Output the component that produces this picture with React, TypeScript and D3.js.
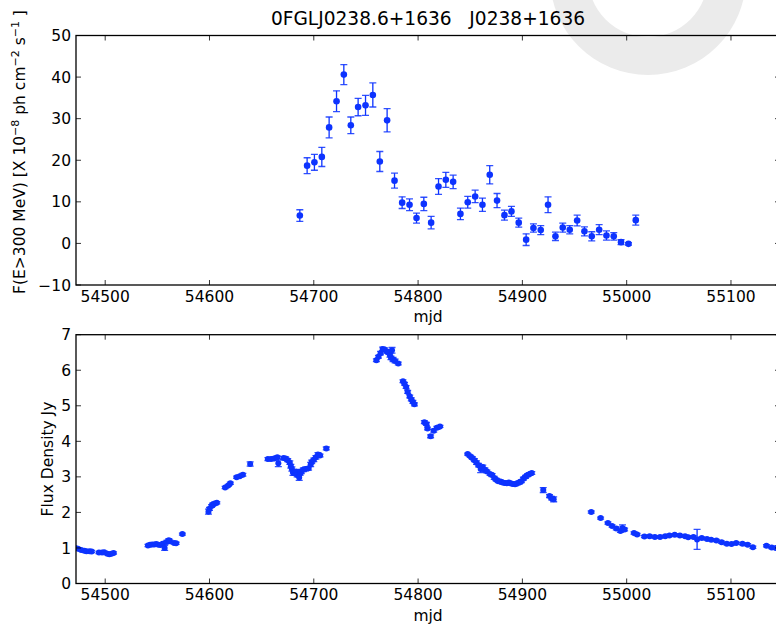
import React from "react";
import * as d3 from "d3";

const xTickValues = [54500, 54600, 54700, 54800, 54900, 55000, 55100];
const topYTicks = [-10, 0, 10, 20, 30, 40, 50];
const botYTicks = [0, 1, 2, 3, 4, 5, 6, 7];

const gammaMjd = [
  54686.6, 54693.6, 54700.6, 54707.7, 54714.7, 54721.8, 54728.8, 54735.5, 54742.5, 54749.6,
  54756.6, 54763.3, 54770.3, 54777.4, 54784.7, 54791.8, 54798.5, 54805.5, 54812.5, 54819.6,
  54826.6, 54833.6, 54840.6, 54847.6, 54854.7, 54861.7, 54868.7, 54875.7, 54882.8, 54889.5,
  54896.5, 54903.6, 54910.6, 54917.6, 54924.6, 54931.7, 54938.7, 54945.4, 54952.5, 54959.5,
  54966.5, 54973.6, 54980.6, 54987.6, 54994.6, 55001.7, 55008.7,
];
const gammaFlux = [
  6.7, 18.7, 19.5, 20.8, 27.9, 34.2, 40.6, 28.4, 32.8, 33.2,
  35.7, 19.7, 29.6, 15.1, 9.8, 9.3, 6.1, 9.5, 5.0, 13.7,
  15.3, 14.8, 7.1, 9.9, 11.3, 9.3, 16.5, 10.3, 6.8, 7.7,
  5.0, 0.9, 3.7, 3.2, 9.3, 1.7, 3.8, 3.3, 5.5, 2.9,
  1.7, 3.3, 1.9, 1.7, 0.3, -0.1, 5.6,
];
const gammaErr = [
  1.4, 1.9, 1.9, 2.3, 2.5, 2.5, 2.4, 2.0, 2.1, 2.4,
  2.9, 2.4, 2.8, 1.8, 1.4, 1.4, 1.2, 1.6, 1.5, 1.9,
  1.8, 1.6, 1.4, 1.4, 1.5, 1.6, 2.2, 1.7, 1.2, 1.2,
  1.1, 1.4, 1.0, 1.1, 1.9, 1.0, 1.1, 1.0, 1.3, 1.1,
  1.1, 1.2, 1.1, 0.9, 0.6, 0.3, 1.2,
];

const radioMjd = [
  54471.5, 54474, 54477, 54480, 54482, 54485, 54487, 54494, 54497, 54499, 54502, 54504, 54506, 54508,
  54541, 54543, 54545, 54547, 54549, 54551, 54553, 54555, 54557, 54559, 54561, 54562, 54566, 54568, 54574,
  54599, 54600, 54602, 54603, 54605, 54607,
  54615, 54618, 54620, 54626, 54629, 54632, 54639,
  54656, 54659, 54662, 54665, 54666, 54671, 54673, 54675, 54677, 54678, 54679, 54680, 54682, 54683,
  54684, 54686, 54687, 54688, 54690, 54692, 54695, 54697, 54698, 54700, 54702, 54704, 54706, 54712,
  54760, 54762, 54764, 54766, 54768, 54770, 54772, 54773, 54774, 54775, 54776, 54778, 54781,
  54785.5, 54787, 54788.5, 54790, 54792, 54793.5, 54795, 54796.5,
  54806, 54808, 54809, 54812, 54815, 54818, 54821,
  54847.5, 54850, 54852, 54854, 54856, 54858, 54860, 54862, 54864, 54866, 54869, 54871, 54873, 54875,
  54877, 54879, 54881, 54883, 54885, 54887, 54889, 54891, 54893, 54895, 54897, 54899, 54901, 54903,
  54905, 54907, 54909,
  54920, 54926, 54928, 54930,
  54966, 54975, 54982, 54986, 54990, 54994, 54996, 54998, 55007, 55010, 55017, 55022, 55027, 55032,
  55037, 55041, 55046, 55051, 55056, 55059, 55064, 55067.5, 55072, 55077, 55081, 55086, 55091, 55096,
  55100.5, 55105, 55111, 55116, 55121, 55134, 55139, 55143,
];
const radioFlux = [
  1.0, 0.98, 0.94, 0.92, 0.91, 0.91, 0.9, 0.87, 0.87, 0.88, 0.84, 0.82, 0.84, 0.86,
  1.07, 1.09, 1.1, 1.1, 1.11, 1.09, 1.08, 1.12, 1.0, 1.17, 1.22, 1.19, 1.14, 1.13, 1.39,
  2.02, 2.1, 2.18, 2.22, 2.25, 2.27,
  2.7, 2.76, 2.82, 2.99, 3.02, 3.06, 3.36,
  3.5, 3.5, 3.52, 3.55, 3.38, 3.53, 3.52, 3.47, 3.4, 3.3, 3.22, 3.12, 3.1, 3.15,
  3.05, 2.98, 3.1, 3.15, 3.2, 3.22, 3.24, 3.35, 3.42, 3.48, 3.55, 3.63, 3.6, 3.8,
  6.28, 6.38, 6.48, 6.6, 6.58, 6.53, 6.5, 6.42, 6.35, 6.56, 6.3, 6.26, 6.19,
  5.69, 5.62, 5.53, 5.39, 5.26, 5.18, 5.11, 5.04,
  4.54, 4.49, 4.36, 4.14, 4.3, 4.38, 4.42,
  3.64, 3.58, 3.53, 3.47, 3.4, 3.33, 3.22, 3.28, 3.2, 3.15, 3.08, 3.05, 2.97, 2.92,
  2.88, 2.87, 2.84, 2.83, 2.82, 2.84, 2.81, 2.8, 2.79, 2.82, 2.84, 2.88, 2.95, 3.0,
  3.05, 3.08, 3.11,
  2.63, 2.46, 2.4, 2.37,
  2.01, 1.84, 1.7, 1.62, 1.55, 1.48, 1.56, 1.52, 1.42, 1.38, 1.32, 1.33, 1.31, 1.31,
  1.33, 1.35, 1.37, 1.35, 1.33, 1.3, 1.31, 1.24, 1.28, 1.25, 1.23, 1.21, 1.16, 1.12,
  1.11, 1.14, 1.12, 1.09, 1.02, 1.06, 1.01, 1.0,
];
const radioErr = [
  0.04, 0.03, 0.03, 0.03, 0.03, 0.03, 0.03, 0.03, 0.03, 0.03, 0.03, 0.03, 0.03, 0.03,
  0.03, 0.03, 0.03, 0.03, 0.04, 0.03, 0.03, 0.03, 0.07, 0.04, 0.04, 0.03, 0.03, 0.03, 0.03,
  0.07, 0.04, 0.04, 0.04, 0.04, 0.03,
  0.03, 0.03, 0.03, 0.03, 0.03, 0.04, 0.06,
  0.04, 0.04, 0.04, 0.04, 0.09, 0.04, 0.04, 0.04, 0.05, 0.05, 0.06, 0.08, 0.06, 0.05,
  0.05, 0.08, 0.05, 0.06, 0.05, 0.05, 0.05, 0.06, 0.05, 0.05, 0.05, 0.05, 0.04, 0.04,
  0.04, 0.04, 0.05, 0.05, 0.05, 0.05, 0.05, 0.05, 0.05, 0.08, 0.06, 0.05, 0.04,
  0.04, 0.04, 0.04, 0.04, 0.04, 0.04, 0.04, 0.04,
  0.04, 0.04, 0.04, 0.04, 0.04, 0.04, 0.03,
  0.03, 0.03, 0.04, 0.04, 0.05, 0.05, 0.1, 0.05, 0.05, 0.04, 0.04, 0.04, 0.04, 0.04,
  0.04, 0.04, 0.04, 0.04, 0.04, 0.04, 0.04, 0.04, 0.04, 0.04, 0.04, 0.04, 0.04, 0.04,
  0.04, 0.04, 0.04,
  0.07, 0.04, 0.05, 0.07,
  0.03, 0.03, 0.03, 0.03, 0.04, 0.04, 0.09, 0.04, 0.03, 0.03, 0.03, 0.03, 0.03, 0.03,
  0.03, 0.03, 0.03, 0.03, 0.03, 0.03, 0.03, 0.28, 0.03, 0.03, 0.03, 0.03, 0.03, 0.03,
  0.03, 0.03, 0.03, 0.03, 0.03, 0.03, 0.03, 0.03,
];

const BLUE = "#0d33ff";
const FONT = "DejaVu Sans, Verdana, sans-serif";

type PanelProps = {
  id: string;
  top: number;
  bottom: number;
  left: number;
  right: number;
  yDomain: [number, number];
  yTicks: number[];
  mjd: number[];
  flux: number[];
  err: number[];
  r: number;
};

function Panel(p: PanelProps) {
  const x = d3.scaleLinear().domain([54472, 55147]).range([p.left, p.right]);
  const y = d3.scaleLinear().domain(p.yDomain).range([p.bottom, p.top]);
  const tl = 5;
  const fmtY = (v: number) => (v < 0 ? "\u2212" + Math.abs(v) : String(v));
  return (
    <g>
      <defs>
        <clipPath id={p.id}>
          <rect x={p.left} y={p.top} width={p.right - p.left} height={p.bottom - p.top} />
        </clipPath>
      </defs>
      <g clipPath={`url(#${p.id})`}>
        {p.mjd.map((m, i) => {
          const cx = x(m);
          const y1 = y(p.flux[i] + p.err[i]);
          const y2 = y(p.flux[i] - p.err[i]);
          return (
            <g key={i}>
              <line x1={cx} x2={cx} y1={y1} y2={y2} stroke={BLUE} strokeWidth={1.3} />
              <line x1={cx - 3.5} x2={cx + 3.5} y1={y1} y2={y1} stroke={BLUE} strokeWidth={1.3} strokeOpacity={0.85} />
              <line x1={cx - 3.5} x2={cx + 3.5} y1={y2} y2={y2} stroke={BLUE} strokeWidth={1.3} strokeOpacity={0.85} />
              <circle cx={cx} cy={y(p.flux[i])} r={p.r} fill={BLUE} />
            </g>
          );
        })}
      </g>
      <rect
        x={p.left}
        y={p.top}
        width={p.right - p.left}
        height={p.bottom - p.top}
        fill="none"
        stroke="#000"
        strokeWidth={1.3}
      />
      {xTickValues.map((t) => (
        <g key={"x" + t}>
          <line x1={x(t)} x2={x(t)} y1={p.bottom} y2={p.bottom - tl} stroke="#000" strokeWidth={0.8} />
          <line x1={x(t)} x2={x(t)} y1={p.top} y2={p.top + tl} stroke="#000" strokeWidth={0.8} />
          <text
            x={x(t)}
            y={p.bottom + 16.5}
            textAnchor="middle"
            fontFamily={FONT}
            fontSize={15.5}
            fill="#000"
          >
            {t}
          </text>
        </g>
      ))}
      {p.yTicks.map((t) => (
        <g key={"y" + t}>
          <line x1={p.left} x2={p.left + tl} y1={y(t)} y2={y(t)} stroke="#000" strokeWidth={0.8} />
          <line x1={p.right} x2={p.right - tl} y1={y(t)} y2={y(t)} stroke="#000" strokeWidth={0.8} />
          <text
            x={p.left - 5}
            y={y(t) + 5.6}
            textAnchor="end"
            fontFamily={FONT}
            fontSize={15.5}
            fill="#000"
          >
            {fmtY(t)}
          </text>
        </g>
      ))}
      <text
        x={(p.left + p.right) / 2}
        y={p.bottom + 37}
        textAnchor="middle"
        fontFamily={FONT}
        fontSize={15.5}
        fill="#000"
      >
        mjd
      </text>
    </g>
  );
}

export default function App() {
  const W = 776;
  const H = 626;
  const ring = d3.arc()({
    innerRadius: 60,
    outerRadius: 98,
    startAngle: 0,
    endAngle: Math.PI * 2,
  } as any) as string;
  const left = 76;
  const right = 780;
  return (
    <svg
      width={W}
      height={H}
      viewBox={`0 0 ${W} ${H}`}
      style={{ position: "absolute", left: 0, top: 0, background: "#fff" }}
    >
      <rect x={0} y={0} width={W} height={H} fill="#fff" />
      <path d={ring} transform="translate(648,-23)" fill="#ebebeb" />
      <text
        x={(left + right) / 2}
        y={25}
        textAnchor="middle"
        fontFamily={FONT}
        fontSize={18.6}
        fill="#000"
        style={{ whiteSpace: "pre" }}
      >
        {"0FGLJ0238.6+1636   J0238+1636"}
      </text>
      <Panel
        id="clipTop"
        top={35.5}
        bottom={285}
        left={left}
        right={right}
        yDomain={[-10, 50]}
        yTicks={topYTicks}
        mjd={gammaMjd}
        flux={gammaFlux}
        err={gammaErr}
        r={3.3}
      />
      <Panel
        id="clipBot"
        top={334.7}
        bottom={583.5}
        left={left}
        right={right}
        yDomain={[0, 7]}
        yTicks={botYTicks}
        mjd={radioMjd}
        flux={radioFlux}
        err={radioErr}
        r={3}
      />
      <text
        transform="translate(25,152) rotate(-90)"
        textAnchor="middle"
        fontFamily={FONT}
        fontSize={15.5}
        fill="#000"
        style={{ whiteSpace: "pre" }}
      >
        <tspan>F(E&gt;300 MeV) [X 10</tspan>
        <tspan fontSize={11} dy={-6}>{"\u22128"}</tspan>
        <tspan dy={6}>{" ph cm"}</tspan>
        <tspan fontSize={11} dy={-6}>{"\u22122"}</tspan>
        <tspan dy={6}>{" s"}</tspan>
        <tspan fontSize={11} dy={-6}>{"\u22121"}</tspan>
        <tspan dy={6}>{" ]"}</tspan>
      </text>
      <text
        transform="translate(53,459) rotate(-90)"
        textAnchor="middle"
        fontFamily={FONT}
        fontSize={15.5}
        fill="#000"
      >
        Flux Density Jy
      </text>
    </svg>
  );
}
